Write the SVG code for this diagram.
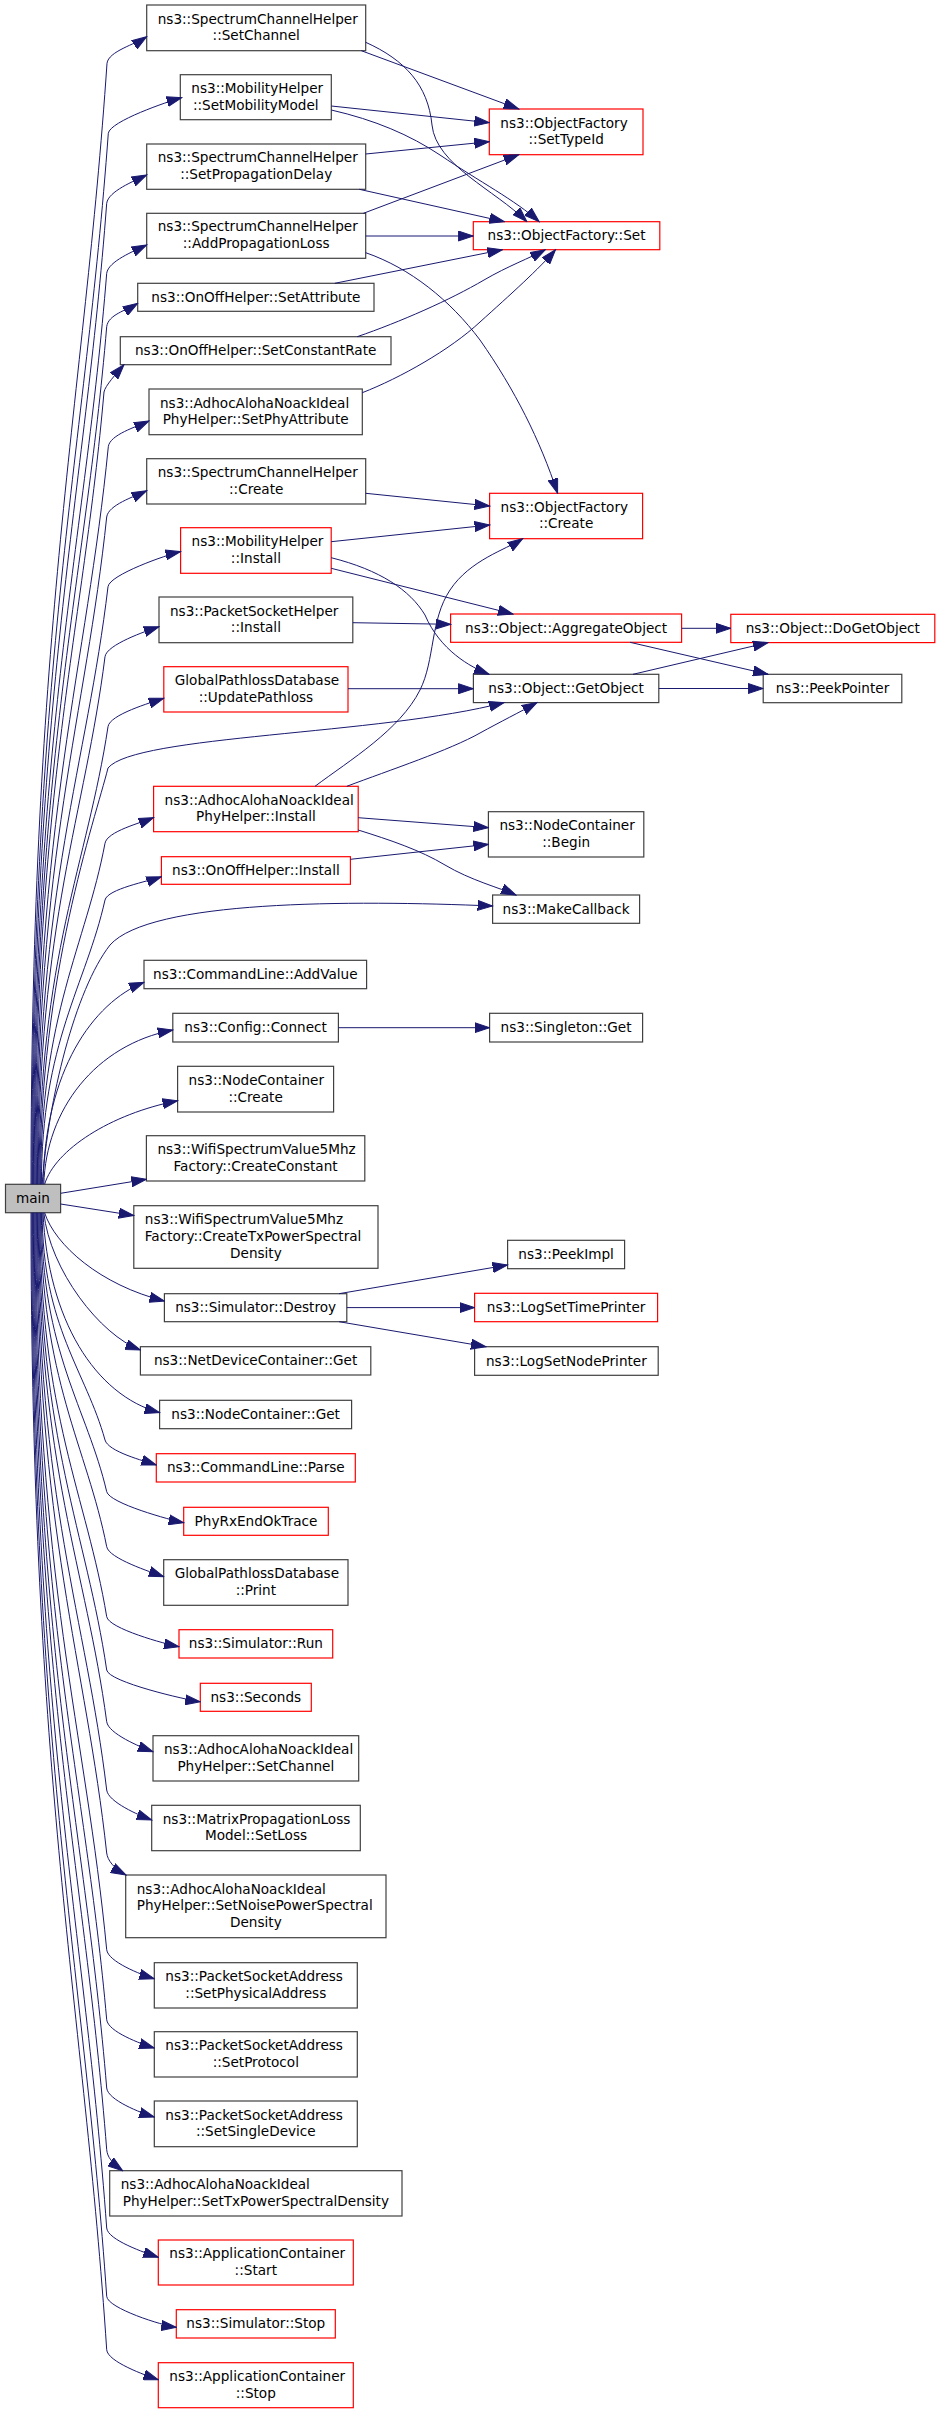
<svg xmlns="http://www.w3.org/2000/svg" width="941" height="2413" viewBox="0 0 941 2413">
<defs>
<marker id="a" markerUnits="userSpaceOnUse" markerWidth="16" markerHeight="11" refX="15" refY="5" orient="auto" viewBox="0 0 16 10">
<path d="M0,0 L15,5 L0,10 z" fill="#191970" stroke="#191970" stroke-width="1"/>
</marker>
</defs>
<style>
.n rect{fill:#fff;stroke:#404040;stroke-width:1.2}
.n.r rect{stroke:#ff0000}
.n.g rect{fill:#bfbfbf}
text{font-family:"DejaVu Sans","Liberation Sans",sans-serif;font-size:13.6px;fill:#000}
.m{text-anchor:middle}
.e path{fill:none;stroke:#191970;stroke-width:1;marker-end:url(#a)}
</style>
<rect x="0" y="0" width="941" height="2413" fill="#fff"/>
<g id="nodes">
<g id="main" class="n g"><rect x="5.5" y="1184.3" width="55.1" height="28.4"/><text class="m" x="33" y="1203">main</text></g>
<g id="n1" class="n"><rect x="146.7" y="5" width="219" height="45.7"/><text x="157.7" y="23.5">ns3::SpectrumChannelHelper</text><text class="m" x="256.2" y="40.2">::SetChannel</text></g>
<g id="n2" class="n"><rect x="180.3" y="74.7" width="151" height="45"/><text x="191.3" y="92.85">ns3::MobilityHelper</text><text class="m" x="255.8" y="109.55">::SetMobilityModel</text></g>
<g id="n3" class="n"><rect x="146.7" y="144" width="219" height="45.3"/><text x="157.7" y="162.3">ns3::SpectrumChannelHelper</text><text class="m" x="256.2" y="179">::SetPropagationDelay</text></g>
<g id="n4" class="n"><rect x="146.7" y="213.3" width="219" height="45"/><text x="157.7" y="231.45">ns3::SpectrumChannelHelper</text><text class="m" x="256.2" y="248.15">::AddPropagationLoss</text></g>
<g id="n5" class="n"><rect x="137.7" y="283.3" width="236.3" height="28"/><text class="m" x="255.85" y="301.8">ns3::OnOffHelper::SetAttribute</text></g>
<g id="n6" class="n"><rect x="120.3" y="336.7" width="270.7" height="28"/><text class="m" x="255.65" y="355.2">ns3::OnOffHelper::SetConstantRate</text></g>
<g id="n7" class="n"><rect x="149" y="389" width="213.3" height="45.7"/><text x="160" y="407.5">ns3::AdhocAlohaNoackIdeal</text><text class="m" x="255.65" y="424.2">PhyHelper::SetPhyAttribute</text></g>
<g id="n8" class="n"><rect x="146.7" y="458.7" width="219" height="45.3"/><text x="157.7" y="477">ns3::SpectrumChannelHelper</text><text class="m" x="256.2" y="493.7">::Create</text></g>
<g id="n9" class="n r"><rect x="180.6" y="527.7" width="150.6" height="45.6"/><text x="191.6" y="546.15">ns3::MobilityHelper</text><text class="m" x="255.9" y="562.85">::Install</text></g>
<g id="n10" class="n"><rect x="159" y="597" width="193.8" height="45.7"/><text x="170" y="615.5">ns3::PacketSocketHelper</text><text class="m" x="255.9" y="632.2">::Install</text></g>
<g id="n11" class="n r"><rect x="163.8" y="666.7" width="184.2" height="45.3"/><text x="174.8" y="685">GlobalPathlossDatabase</text><text class="m" x="255.9" y="701.7">::UpdatePathloss</text></g>
<g id="n12" class="n r"><rect x="153.6" y="786.3" width="204.6" height="45.4"/><text x="164.6" y="804.65">ns3::AdhocAlohaNoackIdeal</text><text class="m" x="255.9" y="821.35">PhyHelper::Install</text></g>
<g id="n13" class="n r"><rect x="161.4" y="856.7" width="189" height="27.6"/><text class="m" x="255.9" y="875">ns3::OnOffHelper::Install</text></g>
<g id="n14" class="n"><rect x="144" y="960.3" width="222.6" height="28.4"/><text class="m" x="255.3" y="979">ns3::CommandLine::AddValue</text></g>
<g id="n15" class="n"><rect x="172.8" y="1013.3" width="165.6" height="28.7"/><text class="m" x="255.6" y="1032.15">ns3::Config::Connect</text></g>
<g id="n16" class="n"><rect x="177.6" y="1066.3" width="156" height="45.7"/><text x="188.6" y="1084.8">ns3::NodeContainer</text><text class="m" x="255.6" y="1101.5">::Create</text></g>
<g id="n17" class="n"><rect x="146.4" y="1135.7" width="218.4" height="45.3"/><text x="157.4" y="1154">ns3::WifiSpectrumValue5Mhz</text><text class="m" x="255.6" y="1170.7">Factory::CreateConstant</text></g>
<g id="n18" class="n"><rect x="133.8" y="1205.7" width="244.2" height="62.6"/><text x="144.8" y="1224.3">ns3::WifiSpectrumValue5Mhz</text><text x="144.8" y="1241">Factory::CreateTxPowerSpectral</text><text class="m" x="255.9" y="1257.7">Density</text></g>
<g id="n19" class="n"><rect x="164.4" y="1293.7" width="182.4" height="28"/><text class="m" x="255.6" y="1312.2">ns3::Simulator::Destroy</text></g>
<g id="n20" class="n"><rect x="140.4" y="1346.7" width="230.4" height="28.3"/><text class="m" x="255.6" y="1365.35">ns3::NetDeviceContainer::Get</text></g>
<g id="n21" class="n"><rect x="159.6" y="1400.3" width="192" height="28.4"/><text class="m" x="255.6" y="1419">ns3::NodeContainer::Get</text></g>
<g id="n22" class="n r"><rect x="156.3" y="1453.7" width="199" height="28.3"/><text class="m" x="255.8" y="1472.35">ns3::CommandLine::Parse</text></g>
<g id="n23" class="n r"><rect x="183.7" y="1507.3" width="144.6" height="28"/><text class="m" x="256" y="1525.8">PhyRxEndOkTrace</text></g>
<g id="n24" class="n"><rect x="163.7" y="1559.7" width="184.3" height="45.6"/><text x="174.7" y="1578.15">GlobalPathlossDatabase</text><text class="m" x="255.85" y="1594.85">::Print</text></g>
<g id="n25" class="n r"><rect x="179" y="1629.7" width="153.7" height="28.3"/><text class="m" x="255.85" y="1648.35">ns3::Simulator::Run</text></g>
<g id="n26" class="n r"><rect x="200.3" y="1683.3" width="111" height="28"/><text class="m" x="255.8" y="1701.8">ns3::Seconds</text></g>
<g id="n27" class="n"><rect x="153" y="1735.7" width="205.7" height="45.3"/><text x="164" y="1754">ns3::AdhocAlohaNoackIdeal</text><text class="m" x="255.85" y="1770.7">PhyHelper::SetChannel</text></g>
<g id="n28" class="n"><rect x="151.7" y="1805.3" width="208.6" height="45.4"/><text x="162.7" y="1823.65">ns3::MatrixPropagationLoss</text><text class="m" x="256" y="1840.35">Model::SetLoss</text></g>
<g id="n29" class="n"><rect x="125.7" y="1875" width="260.3" height="62.7"/><text x="136.7" y="1893.65">ns3::AdhocAlohaNoackIdeal</text><text x="136.7" y="1910.35">PhyHelper::SetNoisePowerSpectral</text><text class="m" x="255.85" y="1927.05">Density</text></g>
<g id="n30" class="n"><rect x="154.3" y="1962.7" width="203" height="45.3"/><text x="165.3" y="1981">ns3::PacketSocketAddress</text><text class="m" x="255.8" y="1997.7">::SetPhysicalAddress</text></g>
<g id="n31" class="n"><rect x="154.3" y="2031.7" width="203" height="45.3"/><text x="165.3" y="2050">ns3::PacketSocketAddress</text><text class="m" x="255.8" y="2066.7">::SetProtocol</text></g>
<g id="n32" class="n"><rect x="154.3" y="2101" width="203" height="45.7"/><text x="165.3" y="2119.5">ns3::PacketSocketAddress</text><text class="m" x="255.8" y="2136.2">::SetSingleDevice</text></g>
<g id="n33" class="n"><rect x="109.7" y="2170.7" width="292.3" height="45.3"/><text x="120.7" y="2189">ns3::AdhocAlohaNoackIdeal</text><text class="m" x="255.85" y="2205.7">PhyHelper::SetTxPowerSpectralDensity</text></g>
<g id="n34" class="n r"><rect x="158.3" y="2240" width="195" height="45"/><text x="169.3" y="2258.15">ns3::ApplicationContainer</text><text class="m" x="255.8" y="2274.85">::Start</text></g>
<g id="n35" class="n r"><rect x="176.3" y="2309.7" width="159" height="28.3"/><text class="m" x="255.8" y="2328.35">ns3::Simulator::Stop</text></g>
<g id="n36" class="n r"><rect x="158.3" y="2362.7" width="195" height="45"/><text x="169.3" y="2380.85">ns3::ApplicationContainer</text><text class="m" x="255.8" y="2397.55">::Stop</text></g>
<g id="settypeid" class="n r"><rect x="489.3" y="109" width="153.7" height="45.7"/><text x="500.3" y="127.5">ns3::ObjectFactory</text><text class="m" x="566.15" y="144.2">::SetTypeId</text></g>
<g id="ofset" class="n r"><rect x="473.3" y="221.7" width="186.5" height="28"/><text class="m" x="566.55" y="240.2">ns3::ObjectFactory::Set</text></g>
<g id="ofcreate" class="n r"><rect x="489.6" y="493.3" width="153" height="45.4"/><text x="500.6" y="511.65">ns3::ObjectFactory</text><text class="m" x="566.1" y="528.35">::Create</text></g>
<g id="aggregate" class="n r"><rect x="450.6" y="614" width="231" height="28.3"/><text class="m" x="566.1" y="632.65">ns3::Object::AggregateObject</text></g>
<g id="getobject" class="n"><rect x="473.4" y="674.3" width="185.4" height="28.3"/><text class="m" x="566.1" y="692.95">ns3::Object::GetObject</text></g>
<g id="begin" class="n"><rect x="488.4" y="811.7" width="155.4" height="45.3"/><text x="499.4" y="830">ns3::NodeContainer</text><text class="m" x="566.1" y="846.7">::Begin</text></g>
<g id="makecallback" class="n"><rect x="492.6" y="895" width="147" height="28.3"/><text class="m" x="566.1" y="913.65">ns3::MakeCallback</text></g>
<g id="singleton" class="n"><rect x="489.6" y="1013.3" width="153" height="28.7"/><text class="m" x="566.1" y="1032.15">ns3::Singleton::Get</text></g>
<g id="peekimpl" class="n"><rect x="507.6" y="1240.3" width="117" height="28.4"/><text class="m" x="566.1" y="1259">ns3::PeekImpl</text></g>
<g id="logtime" class="n r"><rect x="474.6" y="1293.3" width="183" height="28.4"/><text class="m" x="566.1" y="1312">ns3::LogSetTimePrinter</text></g>
<g id="lognode" class="n"><rect x="474.6" y="1346.7" width="183.6" height="28.6"/><text class="m" x="566.4" y="1365.5">ns3::LogSetNodePrinter</text></g>
<g id="dogetobject" class="n r"><rect x="730.8" y="614.3" width="204" height="28.3"/><text class="m" x="832.8" y="632.95">ns3::Object::DoGetObject</text></g>
<g id="peekpointer" class="n"><rect x="763.2" y="674.3" width="138.6" height="28.4"/><text class="m" x="832.5" y="693">ns3::PeekPointer</text></g>
</g>
<g id="edges" class="e">
<path d="M31,1184.3 C31,623.8 84.2,399.6 107,63.3 C108.5,51.3 135.1,44.4 146.7,36.7"/>
<path d="M31.8,1184.3 C31.8,658.8 85.3,448.6 108.3,133.3 C109.8,121.3 168.2,101.3 181.7,97.7"/>
<path d="M32.6,1184.3 C32.6,693.8 84.5,497.6 106.7,203.3 C108.2,191.3 134.1,181 146.7,175"/>
<path d="M33.4,1184.3 C33.4,728.8 84.7,546.6 106.7,273.3 C108.2,261.3 134.1,251 146.7,245"/>
<path d="M34.2,1184.3 C34.2,755.5 85,584 106.7,326.7 C108.2,314.7 125.8,310.7 137.7,303.3"/>
<path d="M35,1184.3 C35,788 83.3,629.6 104,392 C105,386 116.5,373.2 124,364.7"/>
<path d="M35.8,1184.3 C35.8,815.5 86.5,668 108.3,446.7 C109.8,434.7 136.3,426.9 149,421"/>
<path d="M36.6,1184.3 C36.6,850.6 85.7,717.2 106.7,517 C108.2,505 134.1,496.7 146.7,490.7"/>
<path d="M37.4,1184.3 C37.4,885.5 86.8,766 108,586.7 C109.5,574.7 166.9,554.6 180.6,551.7"/>
<path d="M38.2,1184.3 C38.2,920.5 85,815 105,656.7 C106.5,644.7 145.7,631.1 159,626.7"/>
<path d="M39,1184.3 C39,955.5 87.3,864 108,726.7 C109.5,714.7 150.5,702.7 163.8,698.3"/>
<path d="M39.8,1184.3 C39.8,976 95,820 108,768 C135,735 380,735 504,702.6"/>
<path d="M40.6,1184.3 C40.6,1013.8 85.7,945.6 105,843.3 C107,831.5 140.6,822.9 153.6,817.7"/>
<path d="M41.4,1184.3 C41.4,1042 85.9,985.3 105,900 C107.5,889 148.2,881.3 161.4,876.7"/>
<path d="M42.2,1184.3 C48,1100 75,990 110,945 C150,900 350,900 492.6,906"/>
<path d="M43,1184.3 C45,1070 93,1003 144,982.3"/>
<path d="M43.8,1184.3 C46,1110 95,1045 172.8,1030"/>
<path d="M44.6,1184.3 C55,1150 110,1114 177.6,1100.7"/>
<path d="M60.6,1193.3 L146.4,1179.3"/>
<path d="M60.6,1204 L133.8,1215.5"/>
<path d="M44.6,1212.7 C55,1245 100,1285 164.4,1301"/>
<path d="M43.8,1212.7 C50,1270 100,1335 140.4,1350"/>
<path d="M43,1212.7 C48,1320 95,1395 159.6,1412.7"/>
<path d="M42.2,1212.7 C42.2,1326.4 86.2,1371.8 105,1440 C108.2,1451.6 143.4,1460.7 156.3,1465"/>
<path d="M41.4,1212.7 C41.4,1352.2 87.1,1408 106.7,1491.7 C109.5,1503.3 170,1520 183.7,1522.7"/>
<path d="M40.6,1212.7 C40.6,1379.7 86.9,1446.5 106.7,1546.7 C108.9,1558.5 150.6,1571.9 163.7,1576.7"/>
<path d="M39.8,1212.7 C39.8,1414.7 86.6,1495.5 106.7,1616.7 C108.6,1628.5 165.3,1644.1 179,1646.7"/>
<path d="M39,1212.7 C39,1441.4 86.4,1532.8 106.7,1670 C108.5,1682 186.4,1700 200.3,1701.7"/>
<path d="M38.2,1212.7 C38.2,1467.2 86.2,1569 106.7,1721.7 C108.3,1733.6 139.9,1746.9 153,1751.7"/>
<path d="M37.4,1212.7 C37.4,1501.4 85.9,1616.8 106.7,1790 C108.1,1801.9 138.6,1815.2 151.7,1820"/>
<path d="M36.6,1212.7 C36.6,1532.9 85.7,1660.9 106.7,1853 C107.5,1860 113.6,1868.5 126,1875"/>
<path d="M35.8,1212.7 C35.8,1581.2 85.4,1728.6 106.7,1949.7 C107.9,1961.6 140.9,1974.7 154.3,1978.7"/>
<path d="M35,1212.7 C35,1616.2 85.2,1777.6 106.7,2019.7 C107.8,2031.6 140.9,2044 154.3,2048"/>
<path d="M34.2,1212.7 C34.2,1650.4 85,1825.4 106.7,2088 C107.7,2100 140.9,2113 154.3,2117"/>
<path d="M33.4,1212.7 C33.4,1681.2 84.7,1868.6 106.7,2149.7 C107.4,2157 111.4,2162.4 122.7,2170.7"/>
<path d="M32.6,1212.7 C32.6,1720.4 84.5,1923.4 106.7,2228 C107.6,2240 145,2252.8 158.3,2257.3"/>
<path d="M31.8,1212.7 C31.8,1754.5 84.2,1971.2 106.7,2296.3 C107.5,2308.3 162.4,2325.6 176.3,2327.3"/>
<path d="M31,1212.7 C31,1781.2 84,2008.6 106.7,2349.7 C107.5,2361.7 145,2375.2 158.3,2379.7"/>
<path d="M361.3,50.7 L518.7,109"/>
<path d="M331.3,106 L489.3,122.7"/>
<path d="M365.7,154 L489.3,141.7"/>
<path d="M363.4,213.3 L518.7,154.7"/>
<path d="M365.7,42.3 C405,60 428,85 432,125 C436,165 495,190 526.9,221.7"/>
<path d="M331.3,110 C375,120 410,135 440,155 C480,182 515,200 539.2,221.7"/>
<path d="M359.3,189.3 L504.4,221.7"/>
<path d="M365.7,236 L473.3,236"/>
<path d="M334.8,283.3 L502.4,249.7"/>
<path d="M357.2,336.7 C400,322 450,300 484,280 C508,266 530,258 545.3,249.7"/>
<path d="M362.3,392.7 C400,378 450,350 480,322 C510,295 540,268 555.5,249.7"/>
<path d="M365.7,252.7 C410,268 450,300 480,340 C515,390 540,440 557.6,493.3"/>
<path d="M365.7,493.3 L489.6,506"/>
<path d="M331.2,541.7 L489.6,525"/>
<path d="M331.2,568.3 L513,614"/>
<path d="M331.2,557.7 C380,570 410,590 425,615 C440,650 470,667 489,674.3"/>
<path d="M352.8,622.7 L450.6,624.3"/>
<path d="M348,688.7 L473.4,688.7"/>
<path d="M315,786.3 C350,760 400,730 420,690 C435,660 430,620 450,590 C470,560 505,550 522.7,538.7"/>
<path d="M346.8,786.3 C390,770 450,750 480,733 C500,722 520,712 537,702.6"/>
<path d="M358.2,817.7 L488.4,827.7"/>
<path d="M358.2,830 C390,840 420,850 445,865 C470,880 500,888 516,895"/>
<path d="M350.4,859.3 L488.4,844.3"/>
<path d="M681.6,628.3 L730.8,628.3"/>
<path d="M630,642.3 L768,674.3"/>
<path d="M633,674.3 L768,642.6"/>
<path d="M658.8,688.5 L763.2,688.5"/>
<path d="M338.4,1027.7 L489.6,1027.7"/>
<path d="M339,1293.7 L507.6,1265"/>
<path d="M346.8,1307.6 L474.6,1307.6"/>
<path d="M339,1321.7 L486,1346.7"/>
</g>
</svg>
